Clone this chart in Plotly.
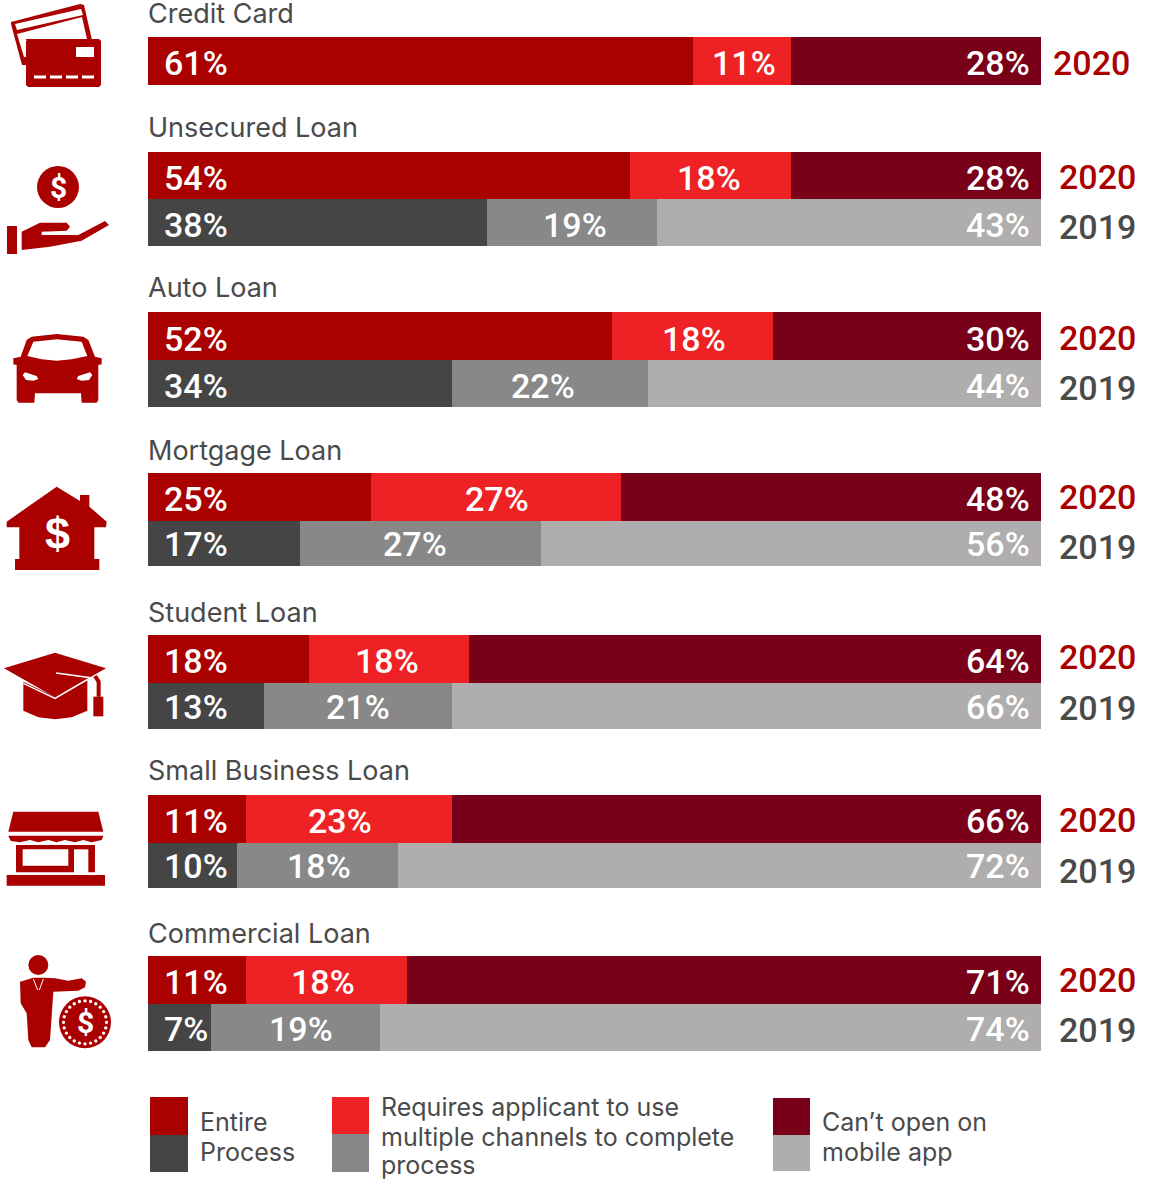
import math
import plotly.graph_objects as go

# ---------- data ----------
CATEGORIES = ["Credit Card", "Unsecured Loan", "Auto Loan", "Mortgage Loan",
              "Student Loan", "Small Business Loan", "Commercial Loan"]
ENTIRE_2020 = [61, 54, 52, 25, 18, 11, 11]
MULTI_2020 = [11, 18, 18, 28, 18, 23, 18]
CANT_2020 = [28, 28, 30, 47, 64, 66, 71]
ENTIRE_2020_LABELS = ["61%", "54%", "52%", "25%", "18%", "11%", "11%"]
MULTI_2020_LABELS = ["11%", "18%", "18%", "27%", "18%", "23%", "18%"]
CANT_2020_LABELS = ["28%", "28%", "30%", "48%", "64%", "66%", "71%"]
CATEGORIES_2019 = CATEGORIES[1:]
ENTIRE_2019 = [38, 34, 17, 13, 10, 7]
MULTI_2019 = [19, 22, 27, 21, 18, 19]
CANT_2019 = [43, 44, 56, 66, 72, 74]
LEGEND_LABELS = [["Entire", "Process"],
                 ["Requires applicant to use", "multiple channels to complete", "process"],
                 ["Can\u2019t open on", "mobile app"]]

# ---------- layout (page pixels) ----------
W, H = 1149, 1179
BAR_L, BAR_R = 148, 1041
TOP_2020 = [(37, 85), (152, 199), (312, 360), (473, 521), (635, 683), (795, 843), (956, 1004)]
TOP_2019 = [(199, 246), (360, 407), (521, 566), (683, 729), (843, 888), (1004, 1051)]
MID_X_2020 = [744, 709, 694, 497, 387, 340, 323]
MID_X_2019 = [575, 543, 415, 358, 319, 301]
LABEL_SHIFT_2020 = [2, 2, 2.5, 2, 1.5, 2, 2]
LABEL_SHIFT_2019 = [2, 2, 0, 1, 0, 1]
TITLE_Y = [13, 127, 287, 450, 612, 770, 933]
YEAR_2020_Y = [63, 177, 338, 497, 657, 820, 980]
YEAR_2019_Y = [227, 388, 547, 708, 871, 1030]
RED, BRIGHT, MAROON = "#AA0000", "#EE2225", "#780018"
DARK, MID, LIGHT = "#454545", "#888888", "#AFADAD"
TEXT = "#4A4A4A"
SANS = "Roboto"
TITLE_FONT = "Inter"

px_per = (BAR_R - BAR_L) / 100


def cen(rows):
    return [(a + b) / 2 for a, b in rows]


def hgt(rows):
    return [b - a for a, b in rows]


def to_x(px):
    return (px - BAR_L) / px_per


fig = go.Figure()
for vals, col, rows in [(ENTIRE_2020, RED, TOP_2020), (MULTI_2020, BRIGHT, TOP_2020),
                        (CANT_2020, MAROON, TOP_2020), (ENTIRE_2019, DARK, TOP_2019),
                        (MULTI_2019, MID, TOP_2019), (CANT_2019, LIGHT, TOP_2019)]:
    fig.add_bar(x=vals, y=cen(rows), width=hgt(rows), orientation="h",
                marker=dict(color=col, line=dict(width=0)), hoverinfo="x")

ann = []


def label(x, y, text, anchor, xshift=0, color="white", size=34, yshift=0, font=SANS, weight=500):
    ann.append(dict(x=x, y=y, text=text, xanchor=anchor, yanchor="middle", showarrow=False,
                    xshift=xshift, yshift=yshift,
                    font=dict(family=font, size=size, color=color, weight=weight)))


def row_labels(rows, mids, shifts, ta, tb, tc):
    for r, m, s, la, lb, lc in zip(cen(rows), mids, shifts, ta, tb, tc):
        label(0, r, la, "left", 14, yshift=-s)
        label(to_x(m), r, lb, "center", yshift=-s)
        label(100, r, lc, "right", -9, yshift=-s)


row_labels(TOP_2020, MID_X_2020, LABEL_SHIFT_2020, ENTIRE_2020_LABELS, MULTI_2020_LABELS, CANT_2020_LABELS)
row_labels(TOP_2019, MID_X_2019, LABEL_SHIFT_2019,
           [f"{v}%" for v in ENTIRE_2019], [f"{v}%" for v in MULTI_2019], [f"{v}%" for v in CANT_2019])

for name, y in zip(CATEGORIES, TITLE_Y):
    label(0, y, name, "left", -2, TEXT, 27, font=TITLE_FONT, weight=400)
for i, y in enumerate(YEAR_2020_Y):
    label(100, y, "2020", "left", 10 if i == 0 else 16, RED, 34)
for y in YEAR_2019_Y:
    label(100, y, "2019", "left", 16, TEXT, 34)

# ---------- icons and legend swatches, in page pixels ----------
shapes = []


def P(x, y):
    return f"{x / W:.5f},{1 - y / H:.5f}"


def poly(pts, fill=RED, line=None, lw=0, closed=True):
    d = "M" + " L".join(P(x, y) for x, y in pts) + (" Z" if closed else "")
    shapes.append(dict(type="path", xref="paper", yref="paper", path=d,
                       fillcolor=fill if closed else "rgba(0,0,0,0)",
                       line=dict(color=line or "rgba(0,0,0,0)", width=lw), layer="above"))


def rect(x0, y0, x1, y1, fill=RED):
    poly([(x0, y0), (x1, y0), (x1, y1), (x0, y1)], fill)


def circle(cx, cy, r, fill=RED):
    shapes.append(dict(type="circle", xref="paper", yref="paper",
                       x0=(cx - r) / W, x1=(cx + r) / W, y0=1 - (cy + r) / H, y1=1 - (cy - r) / H,
                       fillcolor=fill, line=dict(width=0), layer="above"))


def zoomed(pts, oy=0):
    return [(x / 3, y / 3 + oy) for x, y in pts]


def paper_text(x, y, text, size, color="white", anchor="center", font=SANS, bold=False):
    ann.append(dict(xref="paper", yref="paper", x=x / W, y=1 - y / H, text=f"<b>{text}</b>" if bold else text,
                    showarrow=False, xanchor=anchor, yanchor="middle", align="left",
                    font=dict(family=font, size=size, color=color)))


# credit card
poly([(11, 22), (80, 4), (84, 5), (92, 40), (26, 40), (26, 65), (22, 65), (11, 24)])
poly([(15, 24), (81, 9), (83, 15), (17, 30)], "white")
poly([(17, 34), (82, 17), (87, 39), (26, 39), (26, 57), (24, 57)], "white")
poly([(28, 39), (99, 39), (101, 41), (101, 85), (99, 87), (28, 87), (26, 85), (26, 41)])
rect(76, 47, 94, 57, "white")
for x in (34, 50, 66, 82):
    rect(x, 75.5, x + 12, 78.5, "white")

# hand with coin
circle(58, 187, 21)
paper_text(58, 187, "$", 30, bold=True)
rect(7, 226, 17, 254)
poly(zoomed([(65, 695), (120, 668), (200, 668), (210, 680), (200, 692), (125, 695), (125, 705), (235, 705),
             (315, 663), (327, 675), (245, 722), (150, 740), (65, 750)]))

# car
poly(zoomed([(95, 50), (170, 42), (250, 50), (265, 60), (285, 110), (305, 115), (305, 133), (295, 135),
             (295, 240), (290, 248), (245, 248), (243, 220), (105, 220), (103, 248), (55, 248), (50, 240),
             (50, 135), (40, 133), (40, 115), (62, 110), (80, 60)], 320))
poly(zoomed([(100, 65), (170, 58), (245, 65), (262, 108), (215, 118), (170, 122), (125, 118), (82, 108)], 320), "white")
poly(zoomed([(68, 165), (75, 157), (110, 168), (115, 177), (100, 182), (78, 180)], 320), "white")
poly(zoomed([(277, 165), (270, 157), (235, 168), (230, 177), (245, 182), (267, 180)], 320), "white")

# house
poly(zoomed([(170, 500), (240, 543), (240, 525), (268, 525), (268, 560), (320, 605), (318, 622), (283, 622),
             (283, 717), (298, 717), (298, 750), (45, 750), (45, 717), (58, 717), (58, 622), (20, 622),
             (20, 605)], 320))
paper_text(57, 533, "$", 45, bold=True, font="Liberation Sans")

# graduation cap
poly(zoomed([(70, 125), (165, 170), (262, 120), (262, 212), (215, 232), (165, 238), (115, 232), (70, 212)], 640))
poly(zoomed([(12, 85), (165, 38), (318, 85), (165, 172)], 640))
poly(zoomed([(168, 99), (272, 113), (165, 175), (70, 130)], 640), "rgba(0,0,0,0)", "white", 1.5, closed=False)
poly(zoomed([(285, 108), (296, 125), (296, 170)], 640), "rgba(0,0,0,0)", RED, 4, closed=False)
rect(280 / 3, 640 + 170 / 3, 310 / 3, 640 + 229 / 3)

# shop
poly(zoomed([(40, 515), (295, 515), (310, 575), (25, 575)], 640))
poly(zoomed([(25, 587), (310, 587), (305, 600), (275, 607), (250, 600), (225, 607), (195, 600), (170, 607),
             (145, 600), (115, 607), (90, 600), (60, 607), (32, 603)], 640))
rect(48 / 3, 640 + 615 / 3, 285 / 3, 640 + 697 / 3)
rect(68 / 3, 640 + 628 / 3, 205 / 3, 640 + 677 / 3, "white")
rect(222 / 3, 640 + 628 / 3, 265 / 3, 640 + 700 / 3, "white")
rect(20 / 3, 640 + 705 / 3, 315 / 3, 640 + 737 / 3)

# banker with coin
circle(115 / 3, 910 + 165 / 3, 10)
poly(zoomed([(60, 215), (100, 203), (130, 203), (165, 205), (205, 212), (245, 205), (258, 215), (255, 232),
             (235, 242), (160, 245), (150, 390), (135, 412), (95, 412), (85, 390), (80, 310), (62, 280)], 910))
poly(zoomed([(100, 207), (113, 240)], 910), "rgba(0,0,0,0)", "white", 1, closed=False)
poly(zoomed([(130, 207), (118, 240)], 910), "rgba(0,0,0,0)", "white", 1, closed=False)
cx, cy = 85, 910 + 337 / 3
circle(cx, cy, 26)
for i in range(24):
    a = 2 * math.pi * i / 24
    circle(cx + 21.5 * math.cos(a), cy + 21.5 * math.sin(a), 1.7, "white")
paper_text(cx, cy, "$", 30, bold=True)

# legend
for (x0, x1), (t, m, b), (c1, c2), tx, tys, lines in [
    ((150, 188), (1097, 1135, 1172), (RED, DARK), 198, [1122, 1151.5], LEGEND_LABELS[0]),
    ((332, 369), (1097, 1134, 1172), (BRIGHT, MID), 379, [1107, 1137, 1165], LEGEND_LABELS[1]),
    ((773, 810), (1098, 1135, 1171), (MAROON, LIGHT), 820, [1122, 1151.5], LEGEND_LABELS[2]),
]:
    rect(x0, t, x1, m, c1)
    rect(x0, m, x1, b, c2)
    for ty, line in zip(tys, lines):
        paper_text(tx, ty, line, 25, TEXT, "left", TITLE_FONT)

fig.update_layout(
    width=W, height=H, margin=dict(l=0, r=0, t=0, b=0), barmode="stack", showlegend=False,
    paper_bgcolor="white", plot_bgcolor="white", bargap=0,
    xaxis=dict(range=[-BAR_L / px_per, (W - BAR_L) / px_per], visible=False, fixedrange=True),
    yaxis=dict(range=[H, 0], visible=False, fixedrange=True),
    annotations=ann, shapes=shapes,
)
fig.write_html("out.html", config=dict(displayModeBar=False),
               post_script="document.body.style.margin='0';document.body.style.overflow='hidden';")
